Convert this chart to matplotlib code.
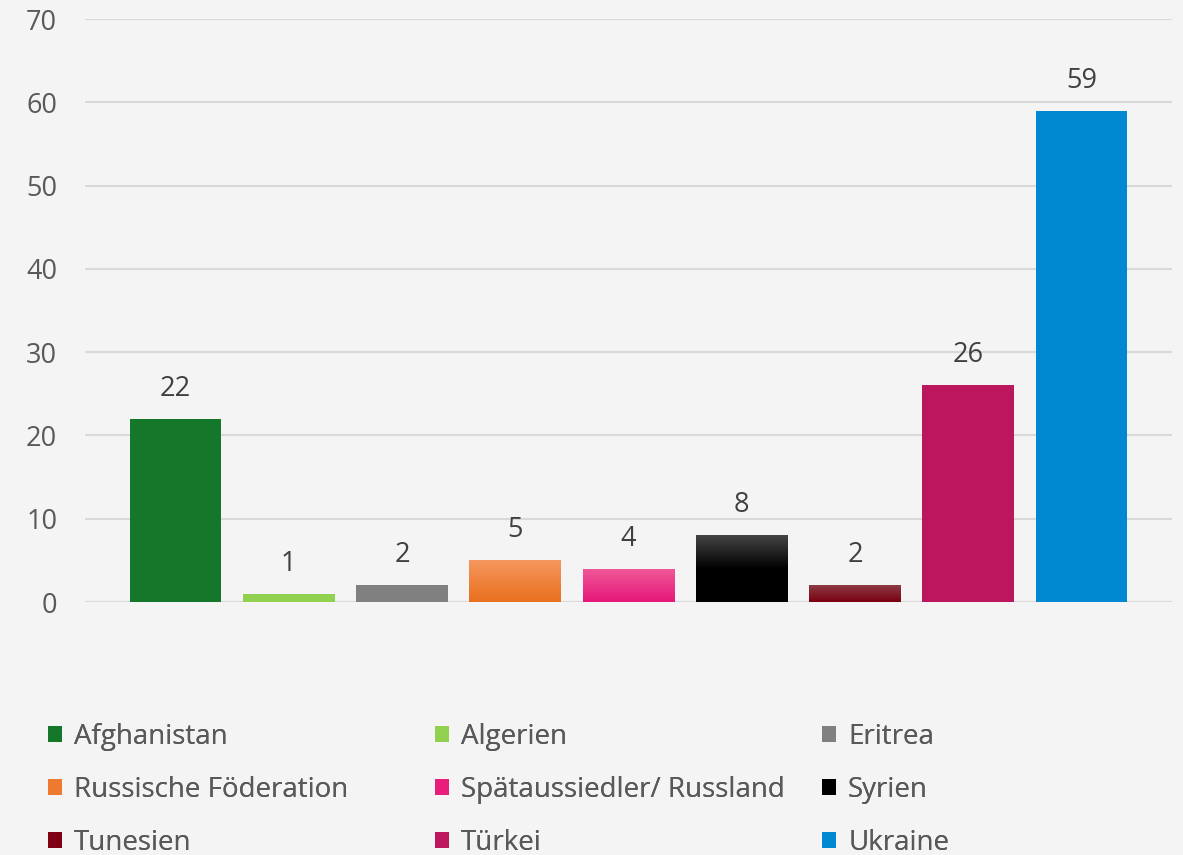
import numpy as np
import matplotlib.pyplot as plt
from matplotlib.colors import LinearSegmentedColormap
from matplotlib.patches import Patch

plt.rcParams['font.family'] = ['Open Sans', 'DejaVu Sans']

# data
countries = ['Afghanistan', 'Algerien', 'Eritrea', 'Russische Föderation',
             'Spätaussiedler/ Russland', 'Syrien', 'Tunesien', 'Türkei', 'Ukraine']
values = [22, 1, 2, 5, 4, 8, 2, 26, 59]
colors = ['#14772a', '#92d050', '#808080', '#ee7a30', '#e91e7a',
          '#000000', '#7f0012', '#bc165c', '#0088d1']
# top/bottom colours for the bars with a gradient fill
gradients = {3: ('#f6975e', '#e8701e'), 4: ('#f05a98', '#e6177a'),
             5: ('#444444', '#000000'), 6: ('#8c3c44', '#7a0010')}

bg = '#f4f4f4'
fig = plt.figure(figsize=(11.83, 8.55), dpi=100, facecolor=bg)
ax = fig.add_axes([85 / 1183, 1 - 602 / 855, 1087 / 1183, 583 / 855])
ax.set_facecolor(bg)

x = np.arange(len(countries))
bars = ax.bar(x, values, width=0.81, color=colors, zorder=3)

for i, (top, bottom) in gradients.items():
    b = bars[i]
    cmap = LinearSegmentedColormap.from_list('g%d' % i, [bottom, bottom, top] if i == 5 else [bottom, top])
    grad = np.linspace(0, 1, 100).reshape(-1, 1)
    im = ax.imshow(grad, cmap=cmap, origin='lower', aspect='auto', zorder=4,
                   extent=[b.get_x(), b.get_x() + b.get_width(), 0, b.get_height()])
    im.set_clip_path(b)

for xi, v in zip(x, values):
    ax.text(xi, v + 3.6, str(v), ha='center', va='center', fontsize=19.5, color='#404040')

ax.set_xlim(-0.8, 8.8)
ax.set_ylim(0, 70)
ax.set_yticks(range(0, 71, 10))
ax.set_xticks([])
ax.grid(axis='y', color='#d9d9d9', linewidth=1.5, zorder=0)
ax.tick_params(axis='y', length=0, labelsize=19.5, labelcolor='#595959', pad=20)
for s in ax.spines.values():
    s.set_visible(False)
ax.axhline(0, color='#d9d9d9', linewidth=1.5, zorder=2)

# legend: three columns, filled row by row
handles = [Patch(facecolor=c) for c in colors]
col_x = [48, 435, 822]
for c, cx in enumerate(col_x):
    idx = [c, c + 3, c + 6]
    leg = fig.legend([handles[i] for i in idx], [countries[i] for i in idx],
                     loc='upper left', bbox_to_anchor=(cx / 1183, 1 - 723 / 855),
                     frameon=False, fontsize=20, labelcolor='#595959',
                     handlelength=0.52, handleheight=0.52, handletextpad=0.42,
                     labelspacing=0.9, borderaxespad=0, borderpad=0)
    fig.add_artist(leg)

fig.savefig('out.png', dpi=100, facecolor=bg)
